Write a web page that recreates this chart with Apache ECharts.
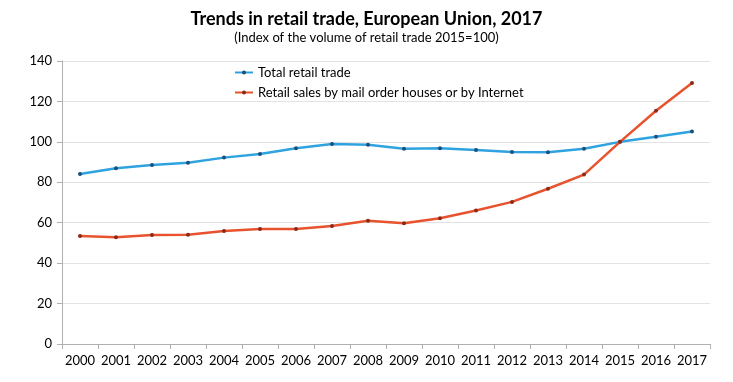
<!DOCTYPE html>
<html><head><meta charset="utf-8">
<script src="https://cdn.jsdelivr.net/npm/echarts@6/dist/echarts.min.js"></script>
<style>html,body{margin:0;padding:0;background:#fff}#c{width:733px;height:382px}</style>
</head><body><div id="c"></div>
<script>
const years = ['2000','2001','2002','2003','2004','2005','2006','2007','2008','2009','2010','2011','2012','2013','2014','2015','2016','2017'];
const totalRetail = [84.1, 86.9, 88.6, 89.7, 92.2, 94.0, 96.8, 98.9, 98.6, 96.6, 96.8, 96.0, 95.0, 94.9, 96.6, 100, 102.5, 105.1];
const mailInternet = [53.4, 52.8, 53.9, 54.1, 55.9, 56.9, 56.9, 58.4, 61.0, 59.7, 62.2, 66.0, 70.3, 76.8, 83.8, 100, 115.4, 129.1];
const seriesNames = ['Total retail trade', 'Retail sales by mail order houses or by Internet'];
const yTicks = [0, 20, 40, 60, 80, 100, 120, 140];

const font = 'Lato, "Open Sans", sans-serif';
const chart = echarts.init(document.getElementById('c'));
chart.setOption({
  animation: false,
  title: {
    text: 'Trends in retail trade, European Union, 2017',
    subtext: '(Index of the volume of retail trade 2015=100)',
    left: 'center', top: 5, itemGap: 3,
    textStyle: {fontFamily: font, fontSize: 18, fontWeight: 'bold', color: '#000'},
    subtextStyle: {fontFamily: font, fontSize: 13, color: '#000'}
  },
  legend: {
    orient: 'vertical', left: 229, top: 61, itemGap: 7,
    itemWidth: 18, itemHeight: 5,
    textStyle: {fontFamily: font, fontSize: 13, color: '#000'},
    data: seriesNames
  },
  grid: {left: 62, right: 23, top: 61, bottom: 38, containLabel: false},
  xAxis: {
    type: 'category', data: years, boundaryGap: true,
    axisLine: {lineStyle: {color: '#b0b0b0'}},
    axisTick: {show: true, alignWithLabel: false, length: 5, lineStyle: {color: '#b0b0b0'}},
    axisLabel: {fontFamily: font, fontSize: 13, color: '#000', margin: 10, interval: 0}
  },
  yAxis: {
    type: 'value', min: yTicks[0], max: yTicks[yTicks.length-1], interval: 20,
    axisLine: {show: true, lineStyle: {color: '#b0b0b0'}},
    axisTick: {show: true, length: 5, lineStyle: {color: '#b0b0b0'}},
    axisLabel: {fontFamily: font, fontSize: 13, color: '#000', margin: 10},
    splitLine: {lineStyle: {color: '#e3e3e3'}}
  },
  series: [
    {name: seriesNames[0], type: 'line', data: totalRetail,
     symbol: 'circle', symbolSize: 4,
     lineStyle: {color: '#2ea3df', width: 2.5},
     itemStyle: {color: '#1c4f7a'}, z: 2},
    {name: seriesNames[1], type: 'line', data: mailInternet,
     symbol: 'circle', symbolSize: 4,
     lineStyle: {color: '#e8532e', width: 2.5},
     itemStyle: {color: '#8a2a18'}, z: 3}
  ]
});
</script></body></html>
